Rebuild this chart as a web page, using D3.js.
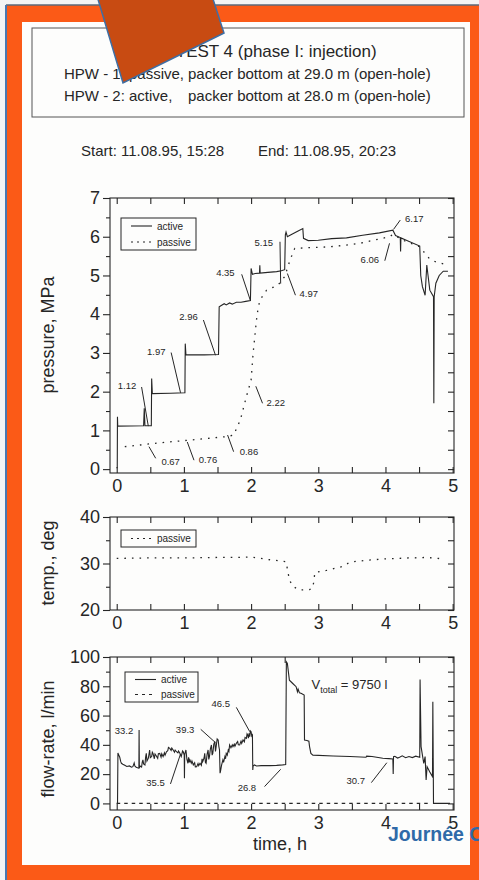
<!DOCTYPE html>
<html><head><meta charset="utf-8">
<script src="https://cdn.jsdelivr.net/npm/d3@7"></script>
<style>html,body{margin:0;padding:0;background:#fff;} svg{display:block;}</style>
</head><body><svg id="c" width="479" height="880"></svg>
<script>
// ---------------- DATA ----------------
const titleLine = "HPW - TEST 4 (phase I: injection)";
const wellLines = [["HPW - 1: passive,", "packer bottom at 29.0 m (open-hole)"],
                   ["HPW - 2: active,", "packer bottom at 28.0 m (open-hole)"]];
const startText = "Start: 11.08.95, 15:28";
const endText = "End: 11.08.95, 20:23";
const xTicks = [0, 1, 2, 3, 4, 5];
const xMinor = [0, 0.5, 1, 1.5, 2, 2.5, 3, 3.5, 4, 4.5, 5];
const pTicks = [0, 1, 2, 3, 4, 5, 6, 7];
const tTicks = [20, 30, 40];
const qTicks = [0, 20, 40, 60, 80, 100];
const seriesNames = ["active", "passive"];

// pressure (time h, MPa)
const pressureActive = [[0.00,0.02],[0.008,0.05],[0.011,1.35],[0.015,1.11],[0.40,1.12],[0.41,1.57],[0.42,1.12],[0.515,1.12],
 [0.52,2.34],[0.53,1.95],[0.80,1.96],[1.015,1.97],[1.02,3.24],[1.03,2.95],[1.30,2.95],[1.515,2.96],
 [1.525,4.19],[1.55,4.22],[1.60,4.27],[1.63,4.24],[1.68,4.29],[1.72,4.26],[1.78,4.31],[1.85,4.31],[1.92,4.33],[1.99,4.35],
 [2.00,5.18],[2.02,5.03],[2.06,5.05],[2.125,5.06],[2.13,5.26],[2.135,5.06],[2.25,5.08],[2.38,5.10],[2.45,5.12],[2.50,5.15],
 [2.51,6.05],[2.52,6.12],[2.54,6.00],[2.60,6.06],[2.70,6.15],[2.77,6.21],[2.78,5.96],[2.85,5.90],[3.00,5.91],[3.20,5.95],
 [3.42,5.97],[3.66,6.04],[3.91,6.10],[4.11,6.17],[4.15,6.03],[4.22,5.98],[4.225,5.62],[4.23,5.97],[4.31,5.91],[4.51,5.76],
 [4.525,5.00],[4.55,4.71],[4.59,4.49],[4.615,5.27],[4.63,5.05],[4.66,4.62],[4.715,4.45],[4.72,1.70],[4.725,4.45],[4.75,4.80],
 [4.80,5.00],[4.86,5.11],[4.93,5.11]];
const pressurePassive = [[0.12,0.58],[0.64,0.68],[1.09,0.75],[1.64,0.84],[1.74,0.88],[1.84,1.27],[1.93,1.87],[2.00,2.30],
 [2.03,2.99],[2.08,3.85],[2.10,4.10],[2.13,4.36],[2.23,4.62],[2.40,4.75],[2.50,4.97],[2.58,5.40],[2.65,5.70],[2.90,5.72],
 [3.17,5.74],[3.40,5.78],[3.62,5.83],[3.85,5.92],[4.06,6.00],[4.11,6.06],[4.30,5.88],[4.51,5.74],[4.66,5.42],[4.75,5.35],[4.91,5.28]];
const pressureNotes = [
 {label:"1.12", t:0.015, v:2.07, from:[0.37,2.12], to:[0.47,1.11]},
 {label:"1.97", t:0.45, v:2.94, from:[0.81,3.01], to:[0.95,1.97]},
 {label:"2.96", t:0.93, v:3.85, from:[1.29,3.85], to:[1.47,2.94]},
 {label:"4.35", t:1.48, v:4.98, from:[1.86,5.03], to:[1.99,4.35]},
 {label:"5.15", t:2.05, v:5.76, from:[2.43,5.87], to:[2.44,4.79]},
 {label:"4.97", t:2.72, v:4.45, from:[2.66,4.49], to:[2.54,5.05]},
 {label:"6.17", t:4.29, v:6.39, from:[4.22,6.43], to:[4.12,6.19]},
 {label:"6.06", t:3.63, v:5.32, from:[3.99,5.38], to:[4.06,5.83]},
 {label:"0.67", t:0.665, v:0.10, from:[0.58,0.28], to:[0.48,0.58]},
 {label:"0.76", t:1.22, v:0.16, from:[1.15,0.23], to:[1.05,0.70]},
 {label:"0.86", t:1.83, v:0.36, from:[1.74,0.45], to:[1.65,0.88]},
 {label:"2.22", t:2.23, v:1.63, from:[2.17,1.70], to:[2.07,2.14]}
];

// temperature (time h, deg)
const tempPassive = [[0.00,31.1],[0.50,31.2],[1.00,31.2],[1.50,31.3],[1.83,31.3],[2.00,31.4],[2.23,30.9],[2.52,30.4],
 [2.57,26.5],[2.62,25.1],[2.72,24.3],[2.87,24.4],[2.92,24.8],[2.95,28.1],[3.12,28.5],[3.37,29.4],[3.47,30.3],
 [3.72,30.7],[4.01,31.0],[4.36,31.2],[4.61,31.3],[4.86,31.0]];

// flow rate (time h, l/min)
const flowActive = [[0.000,0],[0.012,0],[0.018,34.5],[0.03,33],[0.045,31.5],[0.06,28.5],[0.07,27.4],[0.09,26.8],[0.12,26.0],
 [0.15,25.2],[0.19,25.6],[0.22,24.8],[0.24,25.1],[0.26,27.6],[0.27,25.5],[0.29,24.7],[0.31,24.3],[0.33,24.0],[0.333,50.1],
 [0.337,24.3],[0.35,25.5],[0.37,24.8],[0.38,28.2],[0.39,29.7],[0.40,27.0],[0.42,26.3],[0.43,31.5],[0.44,34.2],[0.45,29.0],
 [0.47,30.8],[0.48,33.6],[0.49,36.5],[0.50,31.2],[0.52,32.0],[0.53,35.0],[0.54,34.2],[0.56,30.5],[0.57,33.8],[0.59,32.4],
 [0.61,30.8],[0.62,34.0],[0.64,34.2],[0.66,31.6],[0.67,33.9],[0.69,32.0],[0.71,34.6],[0.72,33.0],[0.74,35.3],[0.76,36.0],
 [0.77,38.2],[0.79,37.6],[0.81,36.2],[0.82,37.8],[0.84,36.5],[0.86,35.0],[0.87,36.4],[0.89,35.3],[0.91,34.5],[0.92,35.8],
 [0.94,34.2],[0.95,33.0],[0.96,32.0],[0.98,35.8],[0.99,35.3],[1.005,33.0],[1.008,17.2],[1.012,33.5],[1.03,36.5],[1.045,30.0],
 [1.06,27.4],[1.07,31.5],[1.08,28.0],[1.09,29.7],[1.11,27.5],[1.12,29.0],[1.14,26.3],[1.16,27.8],[1.17,25.0],[1.19,25.1],
 [1.21,27.2],[1.22,25.8],[1.24,27.4],[1.26,26.0],[1.27,30.5],[1.28,28.5],[1.30,31.0],[1.31,34.2],[1.32,28.0],[1.33,27.4],
 [1.345,33.5],[1.36,36.5],[1.37,30.0],[1.38,32.0],[1.395,37.5],[1.41,39.9],[1.42,33.0],[1.43,34.2],[1.445,40.5],[1.46,42.2],
 [1.47,35.5],[1.48,38.8],[1.495,44.0],[1.51,43.3],[1.52,39.0],[1.53,36.5],[1.538,20.6],[1.545,22.0],[1.56,26.0],[1.58,29.7],
 [1.59,28.0],[1.61,32.0],[1.62,30.5],[1.63,34.2],[1.645,33.0],[1.66,36.5],[1.67,35.5],[1.68,39.9],[1.70,38.0],[1.72,40.0],
 [1.73,38.8],[1.75,40.5],[1.76,39.0],[1.78,41.0],[1.80,42.2],[1.81,40.0],[1.83,39.9],[1.85,42.5],[1.86,41.0],[1.88,43.3],
 [1.90,42.0],[1.91,45.0],[1.93,44.4],[1.94,47.5],[1.95,46.7],[1.96,44.5],[1.97,47.8],[1.98,45.6],[1.99,49.5],[2.00,49.0],
 [2.01,46.0],[2.02,46.7],[2.025,22.8],[2.03,25.5],[2.05,26.3],[2.08,25.6],[2.15,25.8],[2.28,25.8],[2.38,26.0],[2.47,26.3],
 [2.515,26.5],[2.525,96.7],[2.54,95.6],[2.57,84.2],[2.62,81.9],[2.67,79.7],[2.69,76.2],[2.70,78.0],[2.72,75.5],[2.75,75.1],
 [2.79,74.0],[2.795,43.3],[2.83,43.0],[2.86,42.5],[2.87,38.8],[2.89,34.2],[2.92,33.0],[3.22,32.4],[3.47,32.0],[3.71,31.5],
 [3.72,32.3],[3.80,32.0],[3.96,30.8],[4.05,30.6],[4.11,30.3],[4.115,20.1],[4.12,31.9],[4.14,32.2],[4.18,31.0],[4.21,31.5],
 [4.25,32.5],[4.30,31.2],[4.35,32.0],[4.40,31.3],[4.45,32.3],[4.51,31.5],[4.515,84.7],[4.53,38.8],[4.55,33.0],[4.57,27.4],
 [4.59,32.0],[4.605,16.0],[4.62,25.0],[4.66,21.5],[4.70,18.3],[4.705,69.4],[4.715,0],[4.96,0]];
const flowPassive = [[0.0,0],[4.65,0]];
const flowNotes = [
 {label:"33.2", t:-0.03, v:47.4},
 {label:"35.5", t:0.44, v:11.9, from:[0.80,13.3], to:[0.95,33.8]},
 {label:"39.3", t:0.88, v:48.3, from:[1.25,50.6], to:[1.47,41.5]},
 {label:"46.5", t:1.41, v:65.6, from:[1.78,65.6], to:[1.98,49.0]},
 {label:"26.8", t:1.80, v:8.7, from:[2.20,11.5], to:[2.44,23.3]},
 {label:"30.7", t:3.42, v:13.3, from:[3.79,14.2], to:[4.02,27.8]}
];
const vTotal = {t:2.90, v:78.0, value:"9750 l"};

// ---------------- DRAWING ----------------
const FONT = "'Liberation Sans', Arial, Helvetica, sans-serif";
const INK = "#262626";
const svg = d3.select("#c").style("font-family", FONT);

// page frame
svg.append("rect").attr("width",479).attr("height",880).attr("fill","#f4f4f4");
svg.append("rect").attr("x",6).attr("y",5).attr("width",473).attr("height",875).attr("fill","#fb5a17");
svg.append("line").attr("x1",6).attr("x2",479).attr("y1",5).attr("y2",5).attr("stroke","#5d6a7a").attr("stroke-width",1.5);
svg.append("line").attr("x1",6).attr("x2",6).attr("y1",5).attr("y2",880).attr("stroke","#4a78b0").attr("stroke-width",2);
svg.append("rect").attr("x",22).attr("y",22).attr("width",448).attr("height",843).attr("fill","#fdfdfc");

// header
svg.append("rect").attr("x",32).attr("y",28).attr("width",432).attr("height",89)
  .attr("fill","none").attr("stroke","#555").attr("stroke-width",1);
svg.append("text").attr("x",249).attr("y",57).attr("text-anchor","middle").attr("font-size",17).attr("fill",INK).text(titleLine);
wellLines.forEach((l,i)=>{
  const y = 79 + i*22;
  svg.append("text").attr("x",64).attr("y",y).attr("font-size",15).attr("fill",INK).text(l[0]);
  svg.append("text").attr("x",188).attr("y",y).attr("font-size",15).attr("fill",INK).text(l[1]);
});
svg.append("text").attr("x",81).attr("y",156).attr("font-size",15).attr("fill",INK).text(startText);
svg.append("text").attr("x",258).attr("y",156).attr("font-size",15).attr("fill",INK).text(endText);

const x = d3.scaleLinear().domain([-0.1, 5.02]).range([110, 454]);

function panel(cfg){
  const y = d3.scaleLinear().domain(cfg.domain).range([cfg.bottom, cfg.top]);
  const g = svg.append("g");
  g.append("rect").attr("x",110).attr("y",cfg.top).attr("width",344).attr("height",cfg.bottom-cfg.top)
    .attr("fill","none").attr("stroke",INK).attr("stroke-width",1.1);
  const style = sel => { sel.select(".domain").remove(); sel.selectAll("line").attr("stroke",INK).attr("stroke-width",1.1); };
  g.append("g").attr("transform","translate(110,0)")
    .call(d3.axisLeft(y).tickValues(cfg.ticks).tickSize(7).tickPadding(3))
    .call(style).call(s=>s.selectAll("text").attr("font-size",18).attr("fill",INK).attr("font-family",FONT));
  g.append("g").attr("transform","translate(110,0)")
    .call(d3.axisLeft(y).tickValues(cfg.minor).tickSize(4).tickFormat("")).call(style);
  g.append("g").attr("transform","translate(454,0)")
    .call(d3.axisLeft(y).tickValues(cfg.ticks.concat(cfg.minor)).tickSize(6).tickFormat("")).call(style);
  g.append("g").attr("transform",`translate(0,${cfg.top})`)
    .call(d3.axisBottom(x).tickValues(xMinor).tickSize(6).tickFormat("")).call(style);
  g.append("g").attr("transform",`translate(0,${cfg.bottom})`)
    .call(d3.axisTop(x).tickValues(xMinor).tickSize(6).tickFormat("")).call(style);
  g.append("g").attr("transform",`translate(0,${cfg.bottom})`)
    .call(d3.axisBottom(x).tickValues(xTicks).tickSize(0).tickPadding(6).tickFormat(d3.format("d")))
    .call(style).call(s=>s.selectAll("text").attr("font-size",18).attr("fill",INK).attr("font-family",FONT));
  g.append("text").attr("transform",`translate(48,${cfg.labelY}) rotate(-90)`)
    .attr("text-anchor","middle").attr("dominant-baseline","central")
    .attr("font-size",18).attr("fill",INK).text(cfg.title);
  return y;
}

const line = (y) => d3.line().x(d=>x(d[0])).y(d=>y(d[1]));
const dotted = "1.6,6", dashed = "3.5,4";

function legend(entries, bx, by, bw, bh){
  svg.append("rect").attr("x",bx).attr("y",by).attr("width",bw).attr("height",bh)
    .attr("fill","#fdfdfc").attr("stroke",INK).attr("stroke-width",1);
  entries.forEach((e,i)=>{
    const ly = by + (bh/(entries.length)) * (i+0.5);
    svg.append("line").attr("x1",bx+10).attr("x2",bx+31).attr("y1",ly).attr("y2",ly)
      .attr("stroke",INK).attr("stroke-width",1.1).attr("stroke-dasharray",e.dash||null);
    svg.append("text").attr("x",bx+36).attr("y",ly).attr("dominant-baseline","central")
      .attr("font-size",10).attr("fill",INK).text(e.name);
  });
}
function notes(list, y){
  list.forEach(n=>{
    svg.append("text").attr("x",x(n.t)).attr("y",y(n.v)).attr("font-size",9.5).attr("fill",INK).text(n.label);
    if(n.from) svg.append("line").attr("x1",x(n.from[0])).attr("y1",y(n.from[1]))
      .attr("x2",x(n.to[0])).attr("y2",y(n.to[1])).attr("stroke",INK).attr("stroke-width",1);
  });
}

// pressure panel
const yP = panel({domain:[-0.1,7], top:198, bottom:473, ticks:pTicks, minor:d3.range(0.5,7,1), title:"pressure, MPa", labelY:335});
svg.append("path").datum(pressurePassive).attr("d",line(yP)).attr("fill","none").attr("stroke",INK)
  .attr("stroke-width",1.3).attr("stroke-dasharray",dotted);
svg.append("path").datum(pressureActive).attr("d",line(yP)).attr("fill","none").attr("stroke",INK).attr("stroke-width",1.1);
legend([{name:seriesNames[0]},{name:seriesNames[1],dash:"2,4"}], 121, 218, 75, 32);
notes(pressureNotes, yP);

// temperature panel
const yT = panel({domain:[20,40], top:517, bottom:610, ticks:tTicks, minor:[25,35], title:"temp., deg", labelY:563});
svg.append("path").datum(tempPassive).attr("d",line(yT)).attr("fill","none").attr("stroke",INK)
  .attr("stroke-width",1.3).attr("stroke-dasharray",dotted);
legend([{name:seriesNames[1],dash:"2,4"}], 121, 530, 75, 17);

// flow panel
const yQ = panel({domain:[-4.5,100], top:657, bottom:810, ticks:qTicks, minor:d3.range(10,100,20), title:"flow-rate, l/min", labelY:739});
svg.append("path").datum(flowPassive).attr("d",line(yQ)).attr("fill","none").attr("stroke",INK)
  .attr("stroke-width",1.1).attr("stroke-dasharray",dashed);
svg.append("path").datum(flowActive).attr("d",line(yQ)).attr("fill","none").attr("stroke",INK).attr("stroke-width",1.1);
legend([{name:seriesNames[0]},{name:seriesNames[1],dash:"3,4"}], 125, 672, 73, 30);
notes(flowNotes, yQ);
const vt = svg.append("text").attr("x",x(vTotal.t)).attr("y",yQ(vTotal.v)).attr("font-size",13).attr("fill",INK);
vt.append("tspan").text("V");
vt.append("tspan").attr("font-size",9).attr("dy",3.5).text("total");
vt.append("tspan").attr("dy",-3.5).text(" = " + vTotal.value);

svg.append("text").attr("x",280).attr("y",850).attr("text-anchor","middle").attr("font-size",18).attr("fill",INK).text("time, h");

// overlays from the slide
svg.append("text").attr("x",388).attr("y",841).attr("font-size",19.5).attr("font-weight","bold")
  .attr("fill","#2f6aa8").text("Journée C");
svg.append("polygon").attr("points","97,-4 212,-4 224,33 123,83")
  .attr("fill","#c84b12").attr("stroke","#3f6ea3").attr("stroke-width",1.5);
</script></body></html>
